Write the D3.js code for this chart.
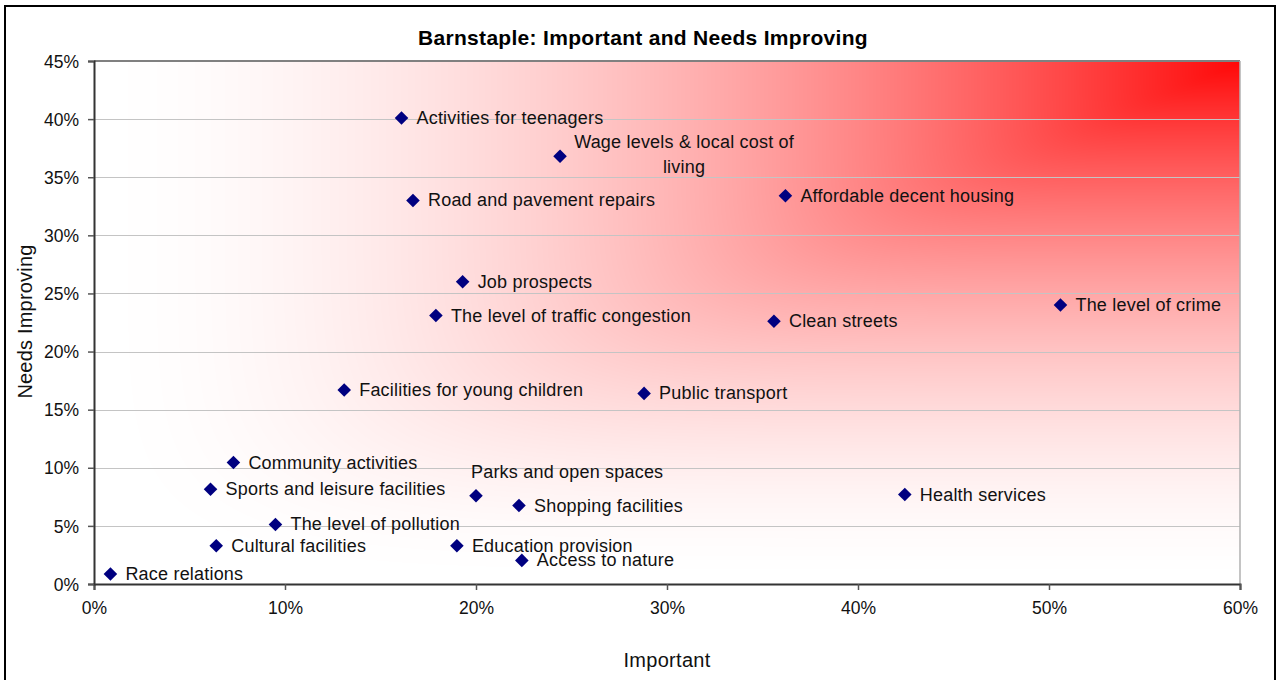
<!DOCTYPE html>
<html>
<head>
<meta charset="utf-8">
<script src="https://cdn.jsdelivr.net/npm/d3@7"></script>
<style>
  html, body { margin: 0; padding: 0; background: #fff; }
  svg { display: block; font-family: "Liberation Sans", Arial, sans-serif; }
</style>
</head>
<body>
<svg id="chart" width="1277" height="680"></svg>
<script>
// ---- data ----
const categories = [
  "Activities for teenagers",
  "Wage levels & local cost of living",
  "Road and pavement repairs",
  "Affordable decent housing",
  "Job prospects",
  "The level of traffic congestion",
  "Clean streets",
  "The level of crime",
  "Facilities for young children",
  "Public transport",
  "Community activities",
  "Sports and leisure facilities",
  "The level of pollution",
  "Cultural facilities",
  "Race relations",
  "Parks and open spaces",
  "Shopping facilities",
  "Education provision",
  "Access to nature",
  "Health services"
];
const importantValues = [
  0.161, 0.244, 0.167, 0.362, 0.193, 0.179, 0.356, 0.506, 0.131, 0.288,
  0.073, 0.061, 0.095, 0.064, 0.0086, 0.200, 0.2225, 0.190, 0.224, 0.4245
];
const needsImprovingValues = [
  0.401, 0.368, 0.330, 0.334, 0.260, 0.231, 0.226, 0.240, 0.167, 0.164,
  0.1045, 0.0816, 0.0512, 0.0329, 0.0086, 0.0759, 0.0675, 0.0329, 0.0203, 0.077
];
const xTickValues = [0, 0.1, 0.2, 0.3, 0.4, 0.5, 0.6];
const yTickValues = [0, 0.05, 0.1, 0.15, 0.2, 0.25, 0.3, 0.35, 0.4, 0.45];
const chartTitle = "Barnstaple: Important and Needs Improving";
const xAxisTitle = "Important";
const yAxisTitle = "Needs Improving";

// ---- label placement (style) ----
const labelPlacement = {
  "Parks and open spaces": "above",
  "Wage levels & local cost of living": "wrap"
};

// ---- layout ----
const svg = d3.select("#chart");
const plot = { left: 94, top: 61, right: 1240, bottom: 584 };
const W = plot.right - plot.left, H = plot.bottom - plot.top;

const x = d3.scaleLinear().domain([0, 0.6]).range([plot.left, plot.right]);
const y = d3.scaleLinear().domain([0, 0.45]).range([plot.bottom, plot.top]);

// outer border
svg.append("rect")
  .attr("x", 5).attr("y", 6).attr("width", 1270).attr("height", 700)
  .attr("fill", "#fff").attr("stroke", "#000").attr("stroke-width", 2);

// gradient background (from top-right corner)
const cv = document.createElement("canvas");
cv.width = W; cv.height = H;
const ctx = cv.getContext("2d");
const img = ctx.createImageData(W, H);
const p = 8, gam = 1.75;
for (let j = 0; j < H; j++) {
  for (let i = 0; i < W; i++) {
    const dx = (W - i) / W, dy = j / H;
    const d = Math.pow(Math.pow(dx, p) + Math.pow(dy, p), 1 / p);
    let t = Math.max(0, 1 - d);
    t = Math.pow(t, gam);
    const k = (j * W + i) * 4;
    img.data[k] = 255;
    img.data[k + 1] = Math.round(255 * (1 - t) + 8 * t);
    img.data[k + 2] = Math.round(255 * (1 - t) + 8 * t);
    img.data[k + 3] = 255;
  }
}
ctx.putImageData(img, 0, 0);
svg.append("image")
  .attr("x", plot.left).attr("y", plot.top)
  .attr("width", W).attr("height", H)
  .attr("preserveAspectRatio", "none")
  .attr("href", cv.toDataURL());

// gridlines
svg.append("g")
  .selectAll("line")
  .data(yTickValues.filter(v => v > 0 && v < 0.45))
  .join("line")
  .attr("x1", plot.left).attr("x2", plot.right)
  .attr("y1", d => Math.round(y(d)) + 0.5).attr("y2", d => Math.round(y(d)) + 0.5)
  .attr("stroke", "#c4c4c4").attr("stroke-width", 1);

// plot border top/right
svg.append("line")
  .attr("x1", plot.left).attr("x2", plot.right)
  .attr("y1", plot.top).attr("y2", plot.top)
  .attr("stroke", "#808080").attr("stroke-width", 2);
svg.append("line")
  .attr("x1", plot.right).attr("x2", plot.right)
  .attr("y1", plot.top).attr("y2", plot.bottom)
  .attr("stroke", "#b0b0b0").attr("stroke-width", 1.5);

// axes
const fmt = d3.format(".0%");
const xAxis = svg.append("g")
  .attr("transform", `translate(0,${plot.bottom})`)
  .call(d3.axisBottom(x).tickValues(xTickValues).tickFormat(fmt).tickSize(6).tickPadding(12));
const yAxis = svg.append("g")
  .attr("transform", `translate(${plot.left},0)`)
  .call(d3.axisLeft(y).tickValues(yTickValues).tickFormat(fmt).tickSize(6).tickPadding(9));
[xAxis, yAxis].forEach(g => {
  g.select(".domain").attr("stroke", "#333").attr("stroke-width", 2);
  g.selectAll(".tick line").attr("stroke", "#555").attr("stroke-width", 1.5);
  g.selectAll(".tick text")
    .attr("fill", "#111")
    .attr("font-size", 17.5)
    .attr("font-family", "'Liberation Sans', Arial, sans-serif");
});
yAxis.selectAll(".tick text").attr("dy", "0.35em");

// title
svg.append("text")
  .attr("x", 643).attr("y", 45)
  .attr("text-anchor", "middle")
  .attr("font-size", 21).attr("font-weight", "bold").attr("fill", "#000")
  .attr("letter-spacing", 0.3)
  .text(chartTitle);

// axis titles
svg.append("text")
  .attr("x", (plot.left + plot.right) / 2).attr("y", 667)
  .attr("text-anchor", "middle")
  .attr("font-size", 20).attr("fill", "#111")
  .attr("letter-spacing", 0.3)
  .text(xAxisTitle);
svg.append("text")
  .attr("transform", `translate(32,${(plot.top + plot.bottom) / 2 - 1}) rotate(-90)`)
  .attr("text-anchor", "middle")
  .attr("font-size", 20).attr("fill", "#111")
  .attr("letter-spacing", 0.2)
  .text(yAxisTitle);

// points
const pts = categories.map((c, i) => ({ name: c, ix: importantValues[i], ny: needsImprovingValues[i] }));
svg.append("g")
  .selectAll("path")
  .data(pts)
  .join("path")
  .attr("transform", d => `translate(${x(d.ix)},${y(d.ny)}) rotate(45)`)
  .attr("d", d3.symbol().type(d3.symbolSquare).size(92))
  .attr("fill", "#000080");

// labels
const lg = svg.append("g")
  .attr("font-size", 18)
  .attr("letter-spacing", 0.2)
  .attr("fill", "#111");
pts.forEach(d => {
  const px = x(d.ix), py = y(d.ny);
  const place = labelPlacement[d.name] || "right";
  if (place === "right") {
    lg.append("text")
      .attr("x", px + 15).attr("y", py)
      .attr("dominant-baseline", "central")
      .text(d.name);
  } else if (place === "above") {
    lg.append("text")
      .attr("x", px - 5).attr("y", py - 24)
      .attr("dominant-baseline", "central")
      .text(d.name);
  } else if (place === "wrap") {
    const words = d.name.split(" ");
    const l1 = words.slice(0, -1).join(" "), l2 = words[words.length - 1];
    lg.append("text")
      .attr("x", px + 124).attr("y", py - 14)
      .attr("text-anchor", "middle").attr("dominant-baseline", "central")
      .text(l1);
    lg.append("text")
      .attr("x", px + 124).attr("y", py + 11)
      .attr("text-anchor", "middle").attr("dominant-baseline", "central")
      .text(l2);
  }
});
</script>
</body>
</html>
